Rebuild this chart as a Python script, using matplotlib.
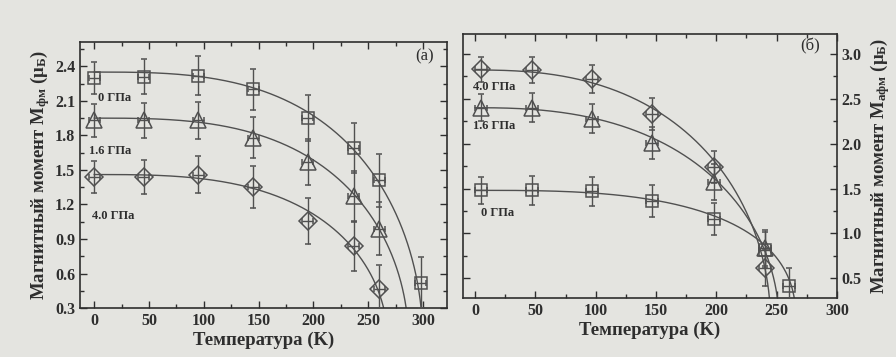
import numpy as np
import matplotlib.pyplot as plt
from matplotlib.ticker import MultipleLocator

plt.rcParams['font.family'] = ['Liberation Serif', 'DejaVu Serif']
plt.rcParams['font.weight'] = 'bold'
plt.rcParams['axes.labelweight'] = 'bold'
plt.rcParams['mathtext.fontset'] = 'custom'
plt.rcParams['mathtext.rm'] = 'Liberation Serif:bold'
plt.rcParams['mathtext.bf'] = 'Liberation Serif:bold'
plt.rcParams['mathtext.it'] = 'Liberation Serif:bold'

# panel (a): ferromagnetic moment
t_a = [0, 45, 95, 145, 195, 237, 260, 298]
m_a_0 = [2.30, 2.31, 2.32, 2.20, 1.95, 1.69, 1.41, 0.52]
e_a_0 = [0.14, 0.15, 0.17, 0.18, 0.20, 0.22, 0.23, 0.22]
t_a16 = [0, 45, 95, 145, 195, 237, 260]
m_a_16 = [1.93, 1.93, 1.93, 1.78, 1.57, 1.27, 0.99]
e_a_16 = [0.14, 0.15, 0.16, 0.18, 0.20, 0.22, 0.23]
m_a_40 = [1.44, 1.44, 1.46, 1.35, 1.06, 0.84, 0.47]
e_a_40 = [0.14, 0.15, 0.16, 0.18, 0.20, 0.22, 0.20]

# panel (б): antiferromagnetic moment
t_b = [5, 47, 97, 147, 198, 240, 260]
t_b7 = [5, 47, 97, 147, 198, 240]
m_b_0 = [1.48, 1.48, 1.47, 1.36, 1.16, 0.82, 0.42]
e_b_0 = [0.15, 0.16, 0.16, 0.18, 0.18, 0.20, 0.20]
m_b_16 = [2.40, 2.40, 2.28, 2.01, 1.57, 0.84]
e_b_16 = [0.15, 0.16, 0.16, 0.18, 0.20, 0.20]
m_b_40 = [2.83, 2.82, 2.72, 2.33, 1.74, 0.62]
e_b_40 = [0.14, 0.15, 0.16, 0.18, 0.18, 0.20]

# fit parameters: M0, Tc, n, beta for M0*(1-(T/Tc)^n)^beta
fit_a = {'0': (2.35, 300, 3, 0.5), '16': (1.95, 287, 3, 0.5), '40': (1.46, 268, 3, 0.5)}
fit_b = {'0': (1.48, 266, 3, 0.4), '16': (2.40, 252, 2.5, 0.5), '40': (2.82, 245, 2.5, 0.5)}

bg = '#e4e4e0'
ink = '#505050'
txt = '#2e2e2e'


def fit_curve(ax, p):
    m0, tc, n, b = p
    t = np.linspace(0, tc, 600)
    m = m0 * np.clip(1 - (t / tc) ** n, 0, None) ** b
    ax.plot(t, m, color=ink, lw=1.0, zorder=2)


def points(ax, t, m, e, marker, size):
    ax.errorbar(t, m, yerr=e, xerr=5, fmt=marker, ms=size, mfc='none', mec=ink,
                mew=1.1, ecolor=ink, elinewidth=1.0, capsize=2.5, zorder=3)


def style(ax):
    ax.set_facecolor(bg)
    for s in ax.spines.values():
        s.set_color(txt)
        s.set_linewidth(1.2)
    ax.tick_params(which='both', direction='in', top=True, right=True,
                   colors=txt, labelsize=11.5, width=1.0)
    ax.tick_params(which='major', length=5)
    ax.tick_params(which='minor', length=3)
    ax.set_xticks([0, 50, 100, 150, 200, 250, 300])
    ax.xaxis.set_minor_locator(MultipleLocator(25))
    ax.set_xlabel('Температура (K)', fontsize=13.5, color=txt, labelpad=2)


fig = plt.figure(figsize=(8.96, 3.57), dpi=100, facecolor=bg)

ax1 = fig.add_axes([0.0893, 0.137, 0.4096, 0.745])
style(ax1)
for k, p in fit_a.items():
    fit_curve(ax1, p)
points(ax1, t_a, m_a_0, e_a_0, 's', 9)
points(ax1, t_a16, m_a_16, e_a_16, '^', 11)
points(ax1, t_a16, m_a_40, e_a_40, 'D', 9)
ax1.set_xlim(-13, 322)
ax1.set_ylim(0.3, 2.61)
ax1.set_yticks([0.3, 0.6, 0.9, 1.2, 1.5, 1.8, 2.1, 2.4])
ax1.yaxis.set_minor_locator(MultipleLocator(0.15))
ax1.set_ylabel(r'Магнитный момент M$_{фм}$ ($\mu_{Б}$)', fontsize=13.5, color=txt, labelpad=2)
ax1.text(3, 2.10, '0 ГПа', fontsize=9, color=txt)
ax1.text(-5, 1.64, '1.6 ГПа', fontsize=9, color=txt)
ax1.text(-2, 1.07, '4.0 ГПа', fontsize=9, color=txt)
ax1.text(0.965, 0.975, '(a)', transform=ax1.transAxes, ha='right', va='top',
         fontsize=12, fontweight='normal', color=txt)

ax2 = fig.add_axes([0.5167, 0.165, 0.4174, 0.7395])
style(ax2)
for k, p in fit_b.items():
    fit_curve(ax2, p)
points(ax2, t_b, m_b_0, e_b_0, 's', 9)
points(ax2, t_b7, m_b_16, e_b_16, '^', 11)
points(ax2, t_b7, m_b_40, e_b_40, 'D', 9)
ax2.set_xlim(-10, 300)
ax2.set_ylim(0.28, 3.22)
ax2.set_yticks([0.5, 1.0, 1.5, 2.0, 2.5, 3.0])
ax2.yaxis.set_minor_locator(MultipleLocator(0.25))
ax2.tick_params(axis='y', labelleft=False, labelright=True)
ax2.yaxis.set_label_position('right')
ax2.set_ylabel(r'Магнитный момент M$_{афм}$ ($\mu_{Б}$)', fontsize=13.5, color=txt,
               rotation=90, labelpad=4)
ax2.text(-2, 2.60, '4.0 ГПа', fontsize=9, color=txt)
ax2.text(-2, 2.16, '1.6 ГПа', fontsize=9, color=txt)
ax2.text(5, 1.19, '0 ГПа', fontsize=9, color=txt)
ax2.text(0.955, 0.985, '(б)', transform=ax2.transAxes, ha='right', va='top',
         fontsize=12, fontweight='normal', color=txt)

fig.savefig('out.png', dpi=100, facecolor=bg)
